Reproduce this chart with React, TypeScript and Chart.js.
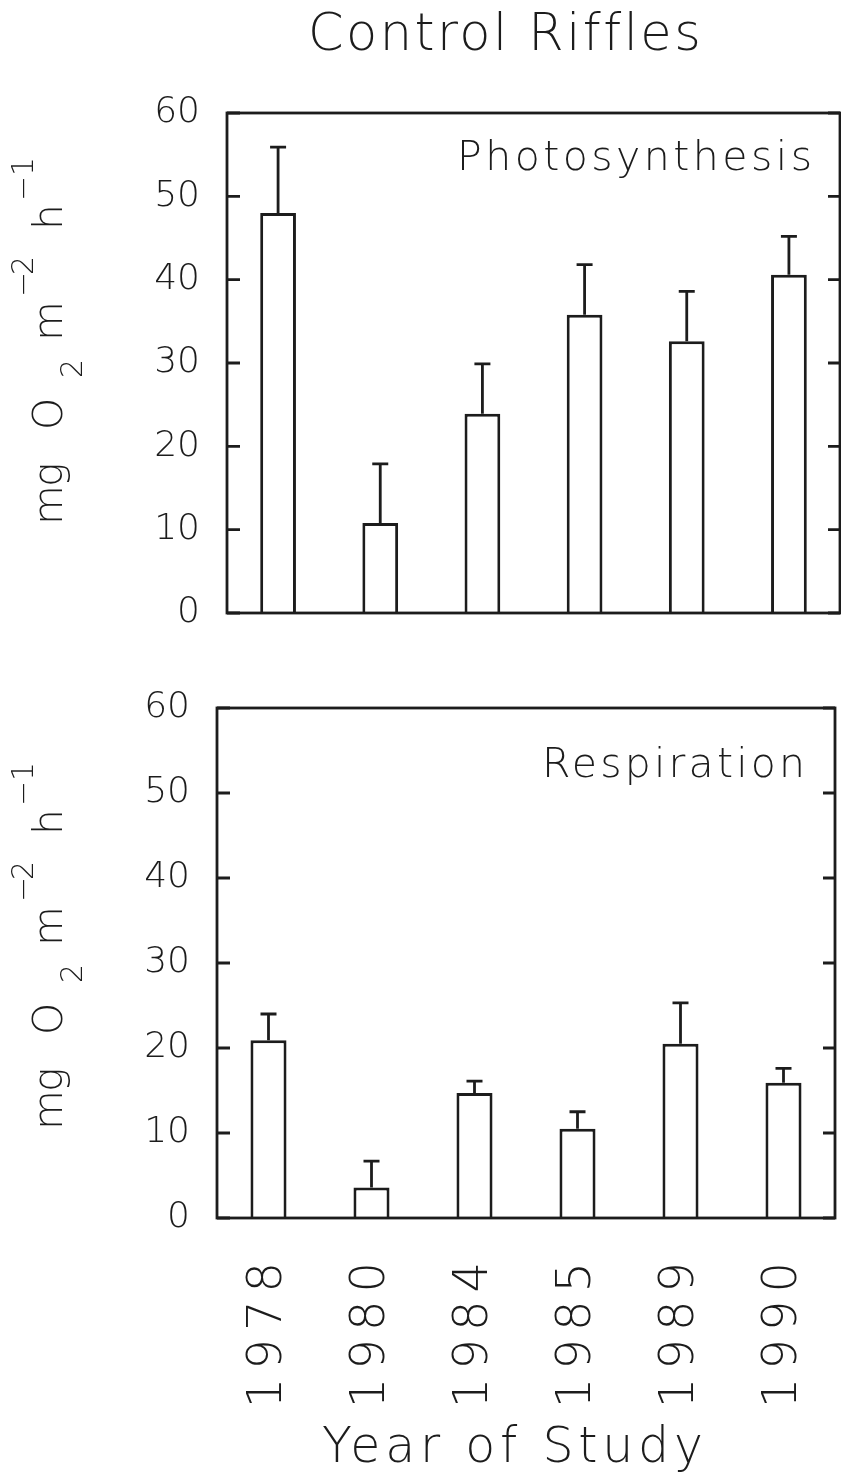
import React, { useEffect, useRef } from "react";
import { Chart, registerables } from "chart.js";

Chart.register(...registerables);

// ---- data ----
const years = ["1978", "1980", "1984", "1985", "1989", "1990"];
const photoMean = [48.0, 10.8, 23.9, 35.8, 32.6, 40.6];
const photoSE = [7.9, 7.1, 6.0, 6.0, 6.0, 4.6];
const respMean = [20.9, 3.6, 14.7, 10.5, 20.5, 15.9];
const respSE = [3.1, 3.1, 1.4, 2.0, 4.8, 1.7];
const yTicks = [0, 10, 20, 30, 40, 50, 60];
const chartTitle = "Control Riffles";
const xTitle = "Year of Study";
const photoLabel = "Photosynthesis";
const respLabel = "Respiration";

const FONT = '"DejaVu Sans", "Liberation Sans", sans-serif';
const WEIGHT = "200";
const INK = "#1c1c1c";

function spacedText(ctx: CanvasRenderingContext2D, text: string, x: number, y: number, size: number, width: number) {
  ctx.save();
  ctx.font = `${WEIGHT} ${size}px ${FONT}`;
  (ctx as any).letterSpacing = "0px";
  const w0 = ctx.measureText(text).width;
  const sp = text.length > 1 ? (width - w0) / (text.length - 1) : 0;
  (ctx as any).letterSpacing = `${sp}px`;
  ctx.textAlign = "left";
  ctx.textBaseline = "alphabetic";
  ctx.fillStyle = INK;
  ctx.fillText(text, x, y);
  ctx.restore();
}

type PanelProps = {
  mean: number[];
  se: number[];
  label: string;
  labelBox: { x: number; y: number; size: number; w: number };
  showX: boolean;
  top: number;
  height: number;
  area: { left: number; right: number; top: number; bottom: number };
  titleText?: string;
};

function Panel(p: PanelProps) {
  const ref = useRef<HTMLCanvasElement>(null);
  useEffect(() => {
    const canvas = ref.current!;
    const W = 841;
    const decor = {
      id: "decor",
      afterDatasetsDraw(chart: any) {
        const ctx: CanvasRenderingContext2D = chart.ctx;
        const a = chart.chartArea;
        const xs = chart.scales.x;
        const ys = chart.scales.y;
        ctx.save();
        ctx.strokeStyle = INK;
        ctx.lineWidth = 2.8;
        ctx.lineCap = "butt";
        // error bars (upper whisker)
        p.mean.forEach((m, i) => {
          const x = xs.getPixelForValue(i);
          const y0 = ys.getPixelForValue(m);
          const y1 = ys.getPixelForValue(m + p.se[i]);
          ctx.beginPath();
          ctx.moveTo(x, y0);
          ctx.lineTo(x, y1);
          ctx.moveTo(x - 8, y1);
          ctx.lineTo(x + 8, y1);
          ctx.stroke();
        });
        // frame
        ctx.strokeRect(a.left, a.top, a.right - a.left, a.bottom - a.top);
        // inward ticks both sides
        ys.ticks.forEach((t: any) => {
          const y = ys.getPixelForValue(t.value);
          ctx.beginPath();
          ctx.moveTo(a.left, y);
          ctx.lineTo(a.left + 13, y);
          ctx.moveTo(a.right, y);
          ctx.lineTo(a.right - 12, y);
          ctx.stroke();
        });
        ctx.restore();
        (ctx as any).letterSpacing = "8px";
      },
      afterDraw(chart: any) {
        const ctx: CanvasRenderingContext2D = chart.ctx;
        (ctx as any).letterSpacing = "0px";
        const a = chart.chartArea;
        if (p.titleText) spacedText(ctx, p.titleText, 308, 50, 51, 392);
        spacedText(ctx, p.label, p.labelBox.x, p.labelBox.y, p.labelBox.size, p.labelBox.w);
        if (p.showX) spacedText(ctx, xTitle, 322, p.height - 20, 49, 381);
        // y axis title with sub/superscripts
        const pieces = [
          { t: "m", at: 0, s: 41, dy: 0 },
          { t: "g", at: 38, s: 41, dy: 0 },
          { t: "O", at: 95, s: 41, dy: 0 },
          { t: "2", at: 147, s: 30, dy: 20 },
          { t: "m", at: 184, s: 41, dy: 0 },
          { t: "\u2212", at: 228, s: 30, dy: -29 },
          { t: "2", at: 250, s: 30, dy: -29 },
          { t: "h", at: 295, s: 41, dy: 0 },
          { t: "\u2212", at: 324, s: 30, dy: -29 },
          { t: "1", at: 349, s: 30, dy: -29 },
        ];
        ctx.save();
        ctx.translate(62, a.bottom - 88);
        ctx.rotate(-Math.PI / 2);
        ctx.fillStyle = INK;
        ctx.textAlign = "left";
        ctx.textBaseline = "alphabetic";
        pieces.forEach((pc) => {
          ctx.font = `${WEIGHT} ${pc.s}px ${FONT}`;
          ctx.fillText(pc.t, pc.at, pc.dy);
        });
        ctx.restore();
      },
    };

    const chart = new Chart(canvas, {
      type: "bar",
      data: {
        labels: years,
        datasets: [
          {
            data: p.mean,
            backgroundColor: "#ffffff",
            borderColor: INK,
            borderWidth: 3,
            barPercentage: 0.35,
            categoryPercentage: 1,
          },
        ],
      },
      options: {
        responsive: false,
        animation: false,
        devicePixelRatio: 1,
        layout: { padding: { left: 0, right: W - p.area.right, top: p.area.top, bottom: 0 } },
        plugins: { legend: { display: false }, tooltip: { enabled: false }, title: { display: false } },
        scales: {
          x: {
            type: "category",
            offset: true,
            grid: { display: false, drawTicks: false },
            border: { display: false },
            ticks: {
              display: p.showX,
              z: 1,
              minRotation: 90,
              maxRotation: 90,
              autoSkip: false,
              padding: 36,
              color: INK,
              font: { family: FONT, size: 48, weight: WEIGHT as any },
            },
            afterFit: (s: any) => {
              s.height = p.height - p.area.bottom;
              s.paddingLeft = 0;
              s.paddingRight = 0;
            },
          },
          y: {
            min: 0,
            max: 60,
            grid: { display: false, drawTicks: false },
            border: { display: false },
            ticks: {
              padding: 27,
              color: INK,
              font: { family: FONT, size: 36, weight: WEIGHT as any },
            },
            afterBuildTicks: (s: any) => {
              s.ticks = yTicks.map((v) => ({ value: v }));
            },
            afterFit: (s: any) => {
              s.width = p.area.left;
              s.paddingTop = 0;
              s.paddingBottom = 0;
            },
          },
        },
      },
      plugins: [decor],
    } as any);
    return () => chart.destroy();
  }, []);
  return (
    <canvas
      ref={ref}
      width={841}
      height={p.height}
      style={{ position: "absolute", left: 0, top: p.top, width: 841, height: p.height, display: "block" }}
    />
  );
}

export default function App() {
  return (
    <div style={{ position: "absolute", left: 0, top: 0, width: 841, height: 1482, background: "#ffffff", overflow: "hidden" }}>
      <Panel
        mean={photoMean}
        se={photoSE}
        label={photoLabel}
        labelBox={{ x: 457, y: 170, size: 41, w: 355 }}
        showX={false}
        top={0}
        height={660}
        area={{ left: 227, right: 840, top: 113, bottom: 613 }}
        titleText={chartTitle}
      />
      <Panel
        mean={respMean}
        se={respSE}
        label={respLabel}
        labelBox={{ x: 542, y: 117, size: 41, w: 263 }}
        showX={true}
        top={660}
        height={822}
        area={{ left: 217, right: 835, top: 48, bottom: 558 }}
      />
    </div>
  );
}
